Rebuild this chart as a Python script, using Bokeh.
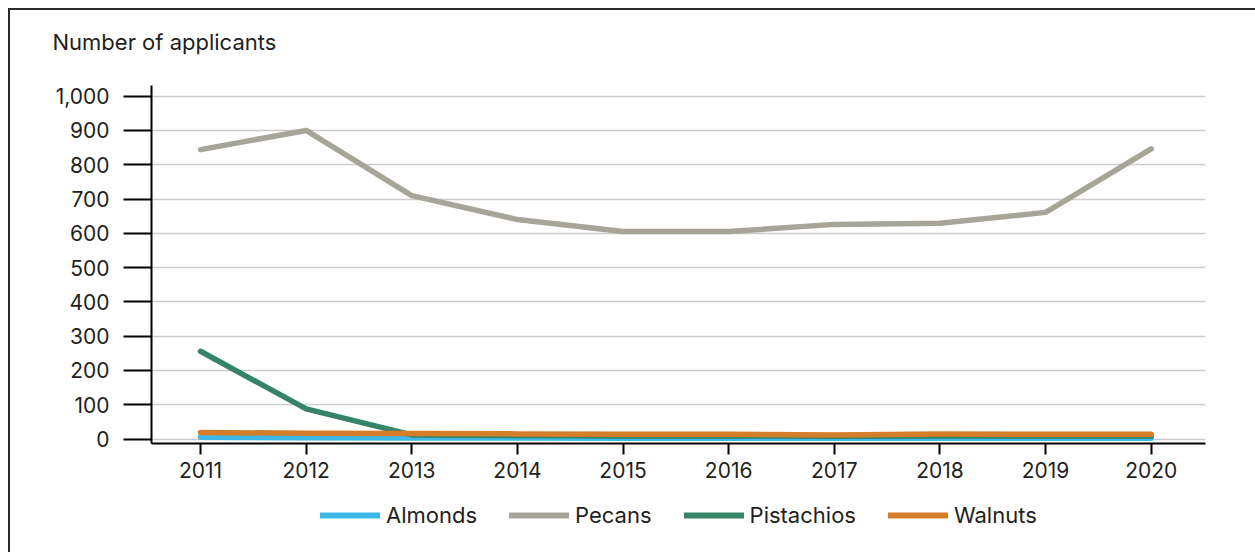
from bokeh.plotting import figure
from bokeh.models import FixedTicker, NumeralTickFormatter, Legend, LegendItem, Range1d, Title
from bokeh.layouts import column
from bokeh.embed import file_html
from bokeh.resources import INLINE

years = [2011, 2012, 2013, 2014, 2015, 2016, 2017, 2018, 2019, 2020]
almonds = [5, 4, 3, 3, 2, 2, 2, 2, 2, 2]
pecans = [844, 900, 710, 640, 605, 605, 626, 629, 661, 846]
pistachios = [256, 88, 12, 10, 9, 9, 8, 9, 9, 9]
walnuts = [19, 17, 16, 15, 14, 14, 12, 15, 14, 14]
y_ticks = [0, 100, 200, 300, 400, 500, 600, 700, 800, 900, 1000]
series_names = ["Almonds", "Pecans", "Pistachios", "Walnuts"]
colors = ["#3DB9E9", "#A7A599", "#358467", "#D47E2A"]

FONT = "Inter"
TXT = "#231F20"
W = 1247
H_MAIN = 478
H_LEG = 66

p = figure(width=W, height=H_MAIN, output_backend="svg", toolbar_location=None,
           x_range=Range1d(2010.536, 2020.514), y_range=Range1d(-13, 1031),
           min_border_left=143, min_border_right=50, min_border_top=77,
           min_border_bottom=H_MAIN - 435)
p.border_fill_color = None
p.background_fill_color = None
p.outline_line_color = None

p.xgrid.grid_line_color = None
p.ygrid.grid_line_color = "#CCCCCC"
p.ygrid.grid_line_width = 1.5

p.yaxis.ticker = FixedTicker(ticks=y_ticks)
p.yaxis.formatter = NumeralTickFormatter(format="0,0")
p.xaxis.ticker = FixedTicker(ticks=years)
for ax in (p.xaxis, p.yaxis):
    ax.axis_line_color = "black"
    ax.axis_line_width = 2
    ax.major_tick_line_color = "black"
    ax.major_tick_line_width = 2
    ax.minor_tick_line_color = None
    ax.major_tick_in = 0
    ax.major_label_text_font = FONT
    ax.major_label_text_font_size = "21px"
    ax.major_label_text_color = TXT
p.yaxis.major_tick_out = 28
p.yaxis.major_label_standoff = 14
p.xaxis.major_tick_out = 11
p.xaxis.major_label_standoff = 7

for name, vals, c in zip(series_names, [almonds, pecans, pistachios, walnuts], colors):
    p.line(years, vals, line_color=c, line_width=5.5, line_cap="round", line_join="round")

# trailing blank line lifts the title within its panel
title = Title(text="Number of applicants\n", align="left", offset=-99, standoff=10,
              text_font=FONT, text_font_size="22px", text_color=TXT, text_font_style="normal")
p.add_layout(title, "above")

# legend strip (its frame is aligned with the main frame by the column layout)
q = figure(width=W, height=H_LEG, output_backend="svg", toolbar_location=None,
           x_range=Range1d(0, 1), y_range=Range1d(0, 1), x_axis_type=None, y_axis_type=None,
           min_border=0)
q.border_fill_color = None
q.background_fill_color = None
q.outline_line_color = None
q.grid.grid_line_color = None
dummies = [q.line([-10, -9], [-10, -9], line_color=c, line_width=6, line_cap="round") for c in colors]

legend = Legend(items=[LegendItem(label=n, renderers=[r]) for n, r in zip(series_names, dummies)],
                orientation="horizontal", location=(169, H_LEG - 42))
legend.label_text_font = FONT
legend.label_text_font_size = "22px"
legend.label_text_color = TXT
legend.glyph_width = 60
legend.glyph_height = 20
legend.label_height = 20
legend.label_standoff = 6
legend.spacing = 32
legend.padding = 0
legend.margin = 0
legend.border_line_color = None
legend.background_fill_color = None
q.add_layout(legend, "center")

layout = column(p, q, spacing=0,
                styles={"box-shadow": "inset 2px 2px 0 0 #2a2a2a", "margin-left": "8px", "margin-top": "8px"})

open("out.html", "w").write(file_html(layout, INLINE))
